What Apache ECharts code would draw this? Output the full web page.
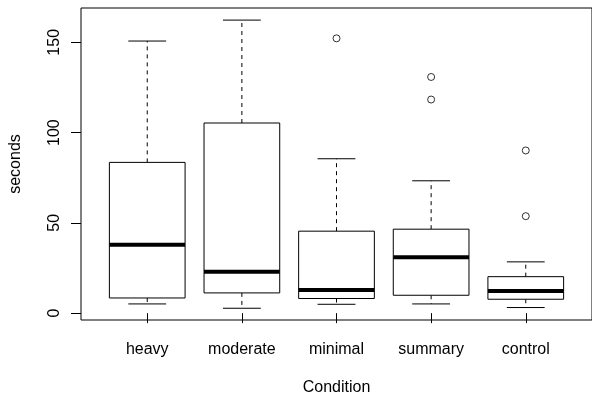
<!DOCTYPE html>
<html>
<head>
<meta charset="utf-8">
<script src="https://cdn.jsdelivr.net/npm/echarts@6/dist/echarts.min.js"></script>
<style>
  html, body { margin: 0; padding: 0; background: #fff; }
  #chart { width: 592px; height: 401px; }
</style>
</head>
<body>
<div id="chart"></div>
<script>
var categories = ['heavy', 'moderate', 'minimal', 'summary', 'control'];
var mins    = [5.1, 2.7, 4.9, 5.1, 3.1];
var q1s     = [8.4, 11.2, 8.1, 9.9, 7.7];
var medians = [37.9, 22.9, 12.8, 30.9, 12.3];
var q3s     = [83.5, 105.3, 45.4, 46.5, 20.2];
var maxs    = [150.7, 162.3, 85.5, 73.3, 28.4];
// outliers: [group position, value]
var outliers = [[3, 152.2], [4, 130.8], [4, 118.3], [5, 90.1], [5, 53.7]];
var yTicks = [0, 50, 100, 150];

var dom = document.getElementById('chart');
var myChart = echarts.init(dom);
var font = 'Liberation Sans, Arial, sans-serif';

var boxData = categories.map(function (c, i) {
  return [i + 1, mins[i], q1s[i], medians[i], q3s[i], maxs[i]];
});

function renderBox(params, api) {
  var x = api.value(0);
  var lo = api.coord([x, api.value(1)]);
  var b1 = api.coord([x, api.value(2)]);
  var md = api.coord([x, api.value(3)]);
  var b3 = api.coord([x, api.value(4)]);
  var hi = api.coord([x, api.value(5)]);
  var w = api.size([0.8, 0])[0];
  var cw = w / 2;
  var cx = lo[0];
  var thin = { stroke: '#000', lineWidth: 1, fill: null };
  var dash = { stroke: '#000', lineWidth: 1, lineDash: [4, 4] };
  return {
    type: 'group',
    children: [
      { type: 'line', shape: { x1: cx, y1: b3[1], x2: cx, y2: hi[1] }, style: dash },
      { type: 'line', shape: { x1: cx, y1: b1[1], x2: cx, y2: lo[1] }, style: dash },
      { type: 'line', shape: { x1: cx - cw / 2, y1: hi[1], x2: cx + cw / 2, y2: hi[1] }, style: thin },
      { type: 'line', shape: { x1: cx - cw / 2, y1: lo[1], x2: cx + cw / 2, y2: lo[1] }, style: thin },
      { type: 'rect', shape: { x: cx - w / 2, y: b3[1], width: w, height: b1[1] - b3[1] },
        style: { stroke: '#000', lineWidth: 1, fill: '#fff' } },
      { type: 'line', shape: { x1: cx - w / 2, y1: md[1], x2: cx + w / 2, y2: md[1] },
        style: { stroke: '#000', lineWidth: 4 } }
    ]
  };
}

option = {
  animation: false,
  backgroundColor: '#fff',
  grid: {
    left: 80, top: 8, width: 515, height: 314,
    show: true, borderColor: '#000', borderWidth: 1, backgroundColor: 'transparent'
  },
  xAxis: {
    type: 'value', min: 0.3, max: 5.7,
    name: 'Condition', nameLocation: 'middle', nameGap: 60,
    nameTextStyle: { fontFamily: font, fontSize: 16, color: '#000' },
    splitLine: { show: false },
    axisLine: { show: false },
    axisTick: { show: true, length: 10, customValues: [1, 2, 3, 4, 5],
      lineStyle: { color: '#000', width: 1 } },
    axisLabel: { customValues: [1, 2, 3, 4, 5], margin: 22,
      fontFamily: font, fontSize: 16, color: '#000',
      formatter: function (v) { return categories[Math.round(v) - 1]; } }
  },
  yAxis: {
    type: 'value', min: -3.8, max: 169,
    name: 'seconds', nameLocation: 'middle', nameGap: 57,
    nameTextStyle: { fontFamily: font, fontSize: 16, color: '#000' },
    splitLine: { show: false },
    axisLine: { show: false },
    axisTick: { show: true, length: 10, customValues: yTicks,
      lineStyle: { color: '#000', width: 1 } },
    axisLabel: { customValues: yTicks, rotate: 90, margin: 18,
      fontFamily: font, fontSize: 16, color: '#000' }
  },
  series: [
    {
      type: 'custom',
      renderItem: renderBox,
      data: boxData,
      encode: { x: 0, y: [1, 2, 3, 4, 5] },
      z: 2
    },
    {
      type: 'scatter',
      data: outliers,
      symbol: 'circle',
      symbolSize: 7,
      itemStyle: { color: '#fff', borderColor: '#000', borderWidth: 1 },
      z: 3
    }
  ]
};

if (option && typeof option === 'object') {
  myChart.setOption(option, true);
}
</script>
</body>
</html>
